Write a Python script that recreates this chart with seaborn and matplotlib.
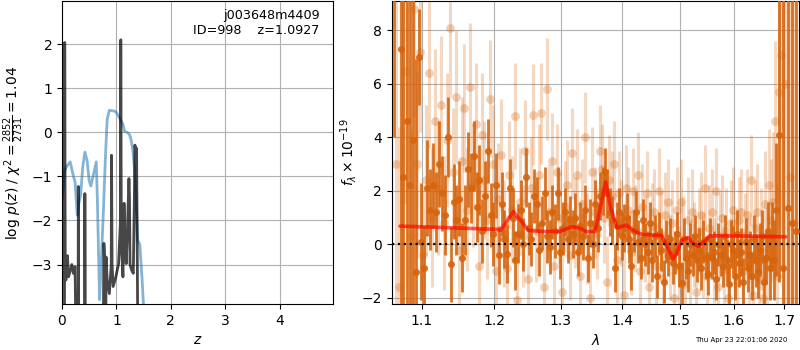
import matplotlib
matplotlib.use("Agg")
import matplotlib.pyplot as plt
from matplotlib.ticker import NullLocator
import seaborn as sns


OUTPUT_FILENAME = "out.png"

# redshift probability curves
z_blue = [0.0, 0.05, 0.10, 0.15, 0.21, 0.24, 0.28, 0.31, 0.34, 0.38, 0.42, 0.46,
          0.50, 0.53, 0.57, 0.63, 0.65, 0.69, 0.72, 0.76, 0.80, 0.83, 0.87, 0.97,
          1.00, 1.06, 1.12, 1.15, 1.20, 1.24, 1.27, 1.30, 1.33, 1.36, 1.39, 1.43,
          1.47, 1.50, 1.53]
logp_blue = [-1.54, -0.86, -0.75, -0.67, -1.0, -1.12, -1.88, -1.6, -1.45, -0.8, -0.45, -0.63,
             -1.1, -1.22, -1.0, -0.67, -1.54, -3.8, -3.0, -1.8, -0.5, 0.3, 0.5, 0.48,
             0.45, 0.32, 0.18, 0.02, 0.0, -0.05, -0.17, -0.4, -0.8, -1.5, -2.45, -2.55,
             -3.3, -4.0, -5.0]

z_chi2 = [0.0, 0.01, 0.045, 0.05, 0.06, 0.075, 0.10, 0.12, 0.15, 0.18, 0.21, 0.24,
          0.27, 0.295, 0.30, 0.31, 0.32, 0.39, 0.415, 0.42, 0.43, 0.44, 0.75, 0.77,
          0.785, 0.80, 0.81, 0.83, 0.87, 0.905, 0.91, 0.92, 0.94, 0.99, 1.04, 1.075,
          1.08, 1.09, 1.12, 1.14, 1.15, 1.18, 1.20, 1.23, 1.24, 1.25, 1.28, 1.31,
          1.335, 1.34, 1.36, 1.37, 1.40, 1.45]
logp_chi2 = [-6.0, -6.0, -5.0, 2.04, -3.35, -3.35, -2.8, -3.28, -3.15, -3.0, -3.2, -3.05,
             -6.0, -6.0, -1.23, -6.0, -6.0, -6.0, -6.0, -1.39, -6.0, -6.0, -6.0, -2.52,
             -3.0, -6.0, -2.83, -3.35, -3.66, -3.0, -0.52, -3.0, -3.5, -3.28, -2.98, -2.0,
             2.1, -2.5, -3.28, -1.61, -2.2, -2.98, -2.3, -1.05, -1.5, -3.0, -3.13, -3.2,
             -1.0, -0.29, -0.5, -0.36, -6.0, -6.0]

# spectrum, first (dark) set
wave_dark = [
    1.064, 1.073, 1.076, 1.081, 1.085, 1.089, 1.093, 1.097,
    1.099, 1.103, 1.107, 1.111, 1.115, 1.119, 1.123, 1.127, 1.131, 1.135,
    1.139, 1.143, 1.147, 1.151, 1.155, 1.159, 1.163, 1.167, 1.171, 1.175,
    1.179, 1.183, 1.187, 1.191, 1.195, 1.199, 1.203, 1.207, 1.211, 1.215,
    1.219, 1.223, 1.227, 1.231, 1.235, 1.239, 1.243, 1.247, 1.251, 1.255,
    1.259, 1.263, 1.267, 1.271, 1.275, 1.279, 1.283, 1.287, 1.291, 1.295,
    1.299, 1.303, 1.307, 1.311, 1.315, 1.319, 1.323, 1.327, 1.331, 1.335,
    1.339, 1.343, 1.347, 1.351, 1.355, 1.359, 1.363, 1.367, 1.371, 1.375,
    1.379, 1.383, 1.387, 1.391, 1.395, 1.399, 1.403, 1.407, 1.411, 1.415,
    1.419, 1.423, 1.427, 1.431, 1.435, 1.439, 1.443, 1.447, 1.451, 1.455,
    1.459, 1.463, 1.467, 1.471, 1.475, 1.479, 1.483, 1.487, 1.491, 1.495,
    1.499, 1.503, 1.507, 1.511, 1.515, 1.519, 1.523, 1.527, 1.531, 1.535,
    1.539, 1.543, 1.547, 1.551, 1.555, 1.559, 1.563, 1.567, 1.571, 1.575,
    1.579, 1.583, 1.587, 1.591, 1.595, 1.599, 1.603, 1.607, 1.611, 1.615,
    1.619, 1.623, 1.627, 1.631, 1.635, 1.639, 1.643, 1.647, 1.651, 1.655,
    1.659, 1.663, 1.667, 1.671, 1.675, 1.679, 1.683, 1.690,
    1.698, 1.707, 1.716, 1.725]
flux_dark = [
    13.0, 7.3, 2.5, 4.6, 2.2, 3.9, -1.05, 7.0,
    0.1, -0.9, 2.1, 1.3, 2.2, 1.2, 3.0, 1.9, 1.1, 4.0,
    -0.75, 1.6, 0.9, 1.7, -0.5, 0.9, 2.8, 2.1, 3.3, 1.4,
    2.4, 0.5, 1.8, 3.5, 1.1, 0.4, 2.2, -0.4, 1.5, 0.2,
    -0.35, 2.1, 1.0, -0.6, 0.4, 1.3, 0.0, 2.5, 0.6, 0.2,
    1.8, 1.5, -0.2, 0.8, 1.9, 0.3, -0.1, 1.2, 0.5, 1.9,
    -0.3, 0.6, 1.2, 0.2, 0.9, 0.4, 1.0, -0.3, 0.7, 0.3,
    1.3, -0.5, 0.8, 0.0, 1.5, 0.6, 1.8, 2.0, 2.7, 1.9,
    1.2, 0.9, -0.9, 0.7, 1.2, 0.3, 0.6, 1.0, 0.2, -0.8,
    0.5, 1.2, 0.1, -0.5, 0.9, 0.0, -0.3, 0.8, -0.6, 0.3,
    -1.2, 0.4, -0.2, -1.4, 0.1, -0.4, 0.2, -0.7, -0.3, 0.4,
    -0.8, -1.45, 0.2, -0.5, -1.0, 0.0, -0.4, 0.3, -0.6, -0.2,
    -0.9, 0.1, -0.5, -1.1, 0.2, -0.5, -0.3, -1.3, 0.0, -0.4,
    -0.8, 0.3, -0.6, -1.5, 0.0, -0.2, -1.2, 0.4, -0.7, -0.3,
    -1.4, 0.1, -0.9, -0.4, -1.2, 0.2, -0.6, -1.0, -0.2, 0.3,
    -1.4, -0.5, 0.5, -0.9, 0.3, -0.6, 1.3, 4.1,
    -0.9, 1.35, 0.8, 0.5]
err_dark = [
    9.0, 25, 25, 20, 20, 12, 8.0, 1.8,
    2.2, 1.6, 1.8, 1.5, 1.6, 1.5, 1.6, 1.4, 1.5, 1.5,
    1.4, 1.4, 1.3, 1.4, 1.3, 1.3, 1.4, 1.3, 1.3, 1.3,
    1.3, 1.2, 1.3, 1.2, 1.2, 1.2, 1.2, 1.1, 1.2, 1.1,
    1.1, 1.1, 1.1, 1.1, 1.1, 1.1, 1.0, 1.1, 1.0, 1.0,
    1.0, 1.0, 1.0, 1.0, 1.0, 1.0, 1.0, 1.0, 1.0, 1.0,
    1.0, 1.0, 0.9, 0.9, 0.9, 0.9, 0.9, 0.9, 0.9, 0.9,
    0.9, 0.9, 0.9, 0.9, 0.9, 0.9, 0.9, 0.9, 0.9, 0.9,
    0.9, 0.9, 0.9, 0.9, 0.9, 0.9, 0.9, 0.9, 0.9, 0.9,
    0.8, 0.8, 0.8, 0.8, 0.8, 0.8, 0.8, 0.8, 0.8, 0.8,
    0.8, 0.8, 0.8, 0.8, 0.8, 0.8, 0.8, 0.8, 0.8, 0.8,
    0.8, 0.8, 0.8, 0.8, 0.8, 0.8, 0.8, 0.8, 0.8, 0.8,
    0.8, 0.8, 0.8, 0.8, 0.8, 0.8, 0.8, 0.8, 0.8, 0.8,
    0.8, 0.8, 0.8, 0.8, 0.9, 0.9, 0.9, 0.9, 0.9, 0.9,
    0.9, 0.9, 0.9, 0.9, 0.9, 0.9, 1.0, 1.0, 1.0, 1.0,
    1.0, 1.0, 1.1, 1.2, 1.3, 1.5, 2.5, 5.5,
    30, 30, 30, 30]

# spectrum, second (faint) set
wave_light = [
    1.066, 1.070, 1.078, 1.086, 1.090, 1.094, 1.098, 1.102,
    1.106, 1.110, 1.114, 1.118, 1.122, 1.126, 1.130, 1.134, 1.138, 1.142,
    1.146, 1.150, 1.154, 1.158, 1.162, 1.166, 1.170, 1.174, 1.178, 1.182,
    1.186, 1.190, 1.194, 1.198, 1.202, 1.206, 1.210, 1.214, 1.218, 1.222,
    1.226, 1.230, 1.234, 1.238, 1.242, 1.246, 1.250, 1.254, 1.258, 1.262,
    1.266, 1.270, 1.274, 1.278, 1.282, 1.286, 1.290, 1.294, 1.298, 1.302,
    1.306, 1.310, 1.314, 1.318, 1.322, 1.326, 1.330, 1.334, 1.338, 1.342,
    1.346, 1.350, 1.354, 1.358, 1.362, 1.366, 1.370, 1.374, 1.378, 1.382,
    1.386, 1.390, 1.394, 1.398, 1.402, 1.406, 1.410, 1.414, 1.418, 1.422,
    1.426, 1.430, 1.434, 1.438, 1.442, 1.446, 1.450, 1.454, 1.458, 1.462,
    1.466, 1.470, 1.474, 1.478, 1.482, 1.486, 1.490, 1.494, 1.498, 1.502,
    1.506, 1.510, 1.514, 1.518, 1.522, 1.526, 1.530, 1.534, 1.538, 1.542,
    1.546, 1.550, 1.554, 1.558, 1.562, 1.566, 1.570, 1.574, 1.578, 1.582,
    1.586, 1.590, 1.594, 1.598, 1.602, 1.606, 1.610, 1.614, 1.618, 1.622,
    1.626, 1.630, 1.634, 1.638, 1.642, 1.646, 1.650, 1.654, 1.658, 1.662,
    1.666, 1.670, 1.674, 1.678, 1.682, 1.686, 1.690, 1.694,
    1.702, 1.712, 1.720]
flux_light = [
    3.0, -1.6, 6.5, 0.3, 8.8, 3.0, 7.2, -0.4,
    2.4, 6.4, 1.0, 4.6, 2.1, 5.2, 0.8, 3.9, 8.1, 2.7,
    5.5, -0.2, 3.1, 5.1, 1.3, 5.87, 2.2, 4.5, -0.8, 4.1,
    2.4, 0.9, 5.45, 3.0, -1.0, 1.7, 3.35, 0.4, -0.9, 2.6,
    1.3, 4.8, -2.1, 1.6, 0.3, 3.5, -1.3, 2.1, 4.85, 0.5,
    2.6, 4.9, -1.6, 5.8, 1.2, 3.1, -0.8, 2.7, 1.0, -1.8,
    1.4, 2.2, -0.4, 3.4, 0.8, 2.6, -1.2, 1.5, 4.0, 0.2,
    -2.0, 2.7, 1.2, 0.4, 3.5, 2.8, 1.0, -1.4, 2.4, 1.8,
    3.0, -0.6, 1.9, 0.8, -1.9, 2.1, 1.3, -0.3, 2.0, 0.6,
    2.6, -1.0, 1.4, 0.2, 1.9, -1.6, 0.7, 1.2, -0.8, 2.0,
    0.4, -1.3, 1.1, 1.6, -0.5, 0.8, -2.0, 1.3, -0.9, 1.6,
    0.2, -1.5, 0.9, -0.7, 1.2, 0.0, -1.8, 0.5, 1.1, -0.4,
    2.1, -1.2, 0.6, 1.2, -0.6, 2.0, -1.6, 0.3, 1.0, -0.9,
    0.5, -2.0, 0.8, 1.3, -0.4, -1.4, 0.9, 1.2, -1.0, 0.3,
    1.1, -0.7, 2.4, -1.9, 0.6, 1.2, -1.3, 0.2, -2.0, 1.5,
    -0.6, 2.2, 0.9, 1.6, 4.6, -1.2, 5.7, 7.1,
    6.0, 2.5, 0.8]
err_light = [
    8.0, 6.0, 5.0, 4.0, 4.0, 3.5, 3.0, 2.6,
    2.8, 2.8, 2.6, 2.7, 2.5, 2.6, 2.5, 2.5, 2.6, 2.4,
    2.5, 2.4, 2.4, 2.4, 2.3, 2.4, 2.3, 2.3, 2.2, 2.3,
    2.2, 2.2, 2.2, 2.2, 2.1, 2.1, 2.1, 2.0, 2.0, 2.0,
    2.0, 2.0, 2.0, 2.0, 1.9, 1.9, 1.9, 1.9, 1.9, 1.9,
    1.9, 1.9, 1.8, 1.9, 1.8, 1.8, 1.8, 1.8, 1.7, 1.8,
    1.7, 1.7, 1.7, 1.7, 1.7, 1.7, 1.7, 1.7, 1.7, 1.7,
    1.7, 1.7, 1.7, 1.7, 1.7, 1.7, 1.7, 1.7, 1.7, 1.7,
    1.6, 1.6, 1.6, 1.6, 1.6, 1.6, 1.6, 1.6, 1.6, 1.6,
    1.6, 1.6, 1.6, 1.6, 1.6, 1.6, 1.6, 1.6, 1.6, 1.6,
    1.6, 1.6, 1.6, 1.6, 1.6, 1.6, 1.6, 1.6, 1.6, 1.6,
    1.6, 1.6, 1.6, 1.6, 1.6, 1.6, 1.6, 1.6, 1.6, 1.6,
    1.6, 1.6, 1.6, 1.6, 1.6, 1.6, 1.6, 1.6, 1.6, 1.6,
    1.6, 1.6, 1.6, 1.6, 1.6, 1.6, 1.6, 1.6, 1.6, 1.6,
    1.7, 1.7, 1.7, 1.7, 1.8, 1.8, 1.8, 1.9, 1.9, 2.0,
    2.0, 2.1, 2.3, 2.6, 3.0, 3.5, 5.0, 8.0,
    25, 25, 25]

# best-fit model
wave_model = [1.0717, 1.2037, 1.2095, 1.228, 1.2405, 1.2503, 1.268, 1.2988, 1.3174,
              1.330, 1.341, 1.3544, 1.360, 1.372, 1.380, 1.391, 1.407, 1.418, 1.4326,
              1.4674, 1.4762, 1.488, 1.494, 1.503, 1.515, 1.524, 1.534, 1.543, 1.555,
              1.612, 1.703]
flux_model = [0.68, 0.56, 0.52, 1.22, 0.84, 0.52, 0.48, 0.48, 0.66,
              0.60, 0.47, 0.48, 1.02, 2.33, 1.40, 0.62, 0.72, 0.52, 0.37,
              0.33, -0.05, -0.55, -0.35, 0.15, 0.25, 0.03, -0.08, 0.08, 0.32,
              0.31, 0.28]

wave_ticks = [1.1, 1.2, 1.3, 1.4, 1.5, 1.6, 1.7]

ORANGE = "#d6640c"


def plot_pz(ax):
    sns.lineplot(x=z_blue, y=logp_blue, ax=ax, color="#1f77b4", alpha=0.55,
                 linewidth=2, sort=False, estimator=None)
    sns.lineplot(x=z_chi2, y=logp_chi2, ax=ax, color="k", alpha=0.72,
                 linewidth=2, sort=False, estimator=None)
    ax.set_xlim(0, 4.98)
    ax.set_ylim(-3.9, 2.98)
    ax.set_xticks([0, 1, 2, 3, 4])
    ax.set_yticks([-3, -2, -1, 0, 1, 2])
    ax.set_xlabel(r"$z$")
    ax.set_ylabel(r"log $p(z)$ / $\chi^2=\frac{2852}{2731}=1.04$")
    ax.text(0.95, 0.975, "j003648m4409\nID=998    z=1.0927", transform=ax.transAxes,
            ha="right", va="top", fontsize=9.2)


def plot_spectrum(ax):
    ax.errorbar(wave_light, flux_light, yerr=err_light, fmt="none", ecolor=ORANGE,
                alpha=0.25, elinewidth=2.2, capsize=0, zorder=2)
    sns.scatterplot(x=wave_light, y=flux_light, ax=ax, color=ORANGE, alpha=0.3,
                    s=40, linewidth=0, zorder=2)
    ax.errorbar(wave_dark, flux_dark, yerr=err_dark, fmt="none", ecolor=ORANGE,
                alpha=0.9, elinewidth=2.0, capsize=0, zorder=3)
    sns.scatterplot(x=wave_dark, y=flux_dark, ax=ax, color=ORANGE, alpha=0.9,
                    s=26, linewidth=0, zorder=3)
    sns.lineplot(x=wave_model, y=flux_model, ax=ax, color="red", alpha=0.65,
                 linewidth=2.6, sort=False, estimator=None, zorder=4)
    ax.axhline(0, color="k", linestyle=":", linewidth=1.6, zorder=5)

    ax.set_xscale("log")
    ax.set_xlim(1.061, 1.731)
    ax.set_ylim(-2.24, 9.1)
    ax.set_xticks(wave_ticks)
    ax.set_xticklabels([f"{w:.1f}" for w in wave_ticks])
    ax.xaxis.set_minor_locator(NullLocator())
    ax.set_yticks([-2, 0, 2, 4, 6, 8])
    ax.set_xlabel(r"$\lambda$")
    ax.set_ylabel(r"$f_\lambda \times 10^{-19}$", labelpad=2)


def main():
    sns.set_style("whitegrid", rc={
        "axes.edgecolor": "black",
        "axes.linewidth": 1.2,
        "grid.color": "#b0b0b0",
        "grid.linewidth": 1.0,
        "xtick.bottom": True,
        "ytick.left": True,
        "xtick.direction": "out",
        "ytick.direction": "out",
        "xtick.color": "black",
        "ytick.color": "black",
        "axes.labelcolor": "black",
        "text.color": "black",
    })
    plt.rcParams["font.family"] = ["DejaVu Sans"]
    plt.rcParams["font.size"] = 10
    plt.rcParams["mathtext.fontset"] = "dejavusans"

    fig = plt.figure(figsize=(8, 3.5), dpi=100)
    ax_z = fig.add_axes([0.0775, 0.131, 0.3388, 0.866])
    ax_s = fig.add_axes([0.4895, 0.131, 0.5095, 0.866])

    plot_pz(ax_z)
    plot_spectrum(ax_s)

    fig.text(0.984, 0.02, "Thu Apr 23 22:01:06 2020", ha="right", va="bottom", fontsize=5)

    fig.savefig(OUTPUT_FILENAME, dpi=100)


if __name__ == "__main__":
    main()
